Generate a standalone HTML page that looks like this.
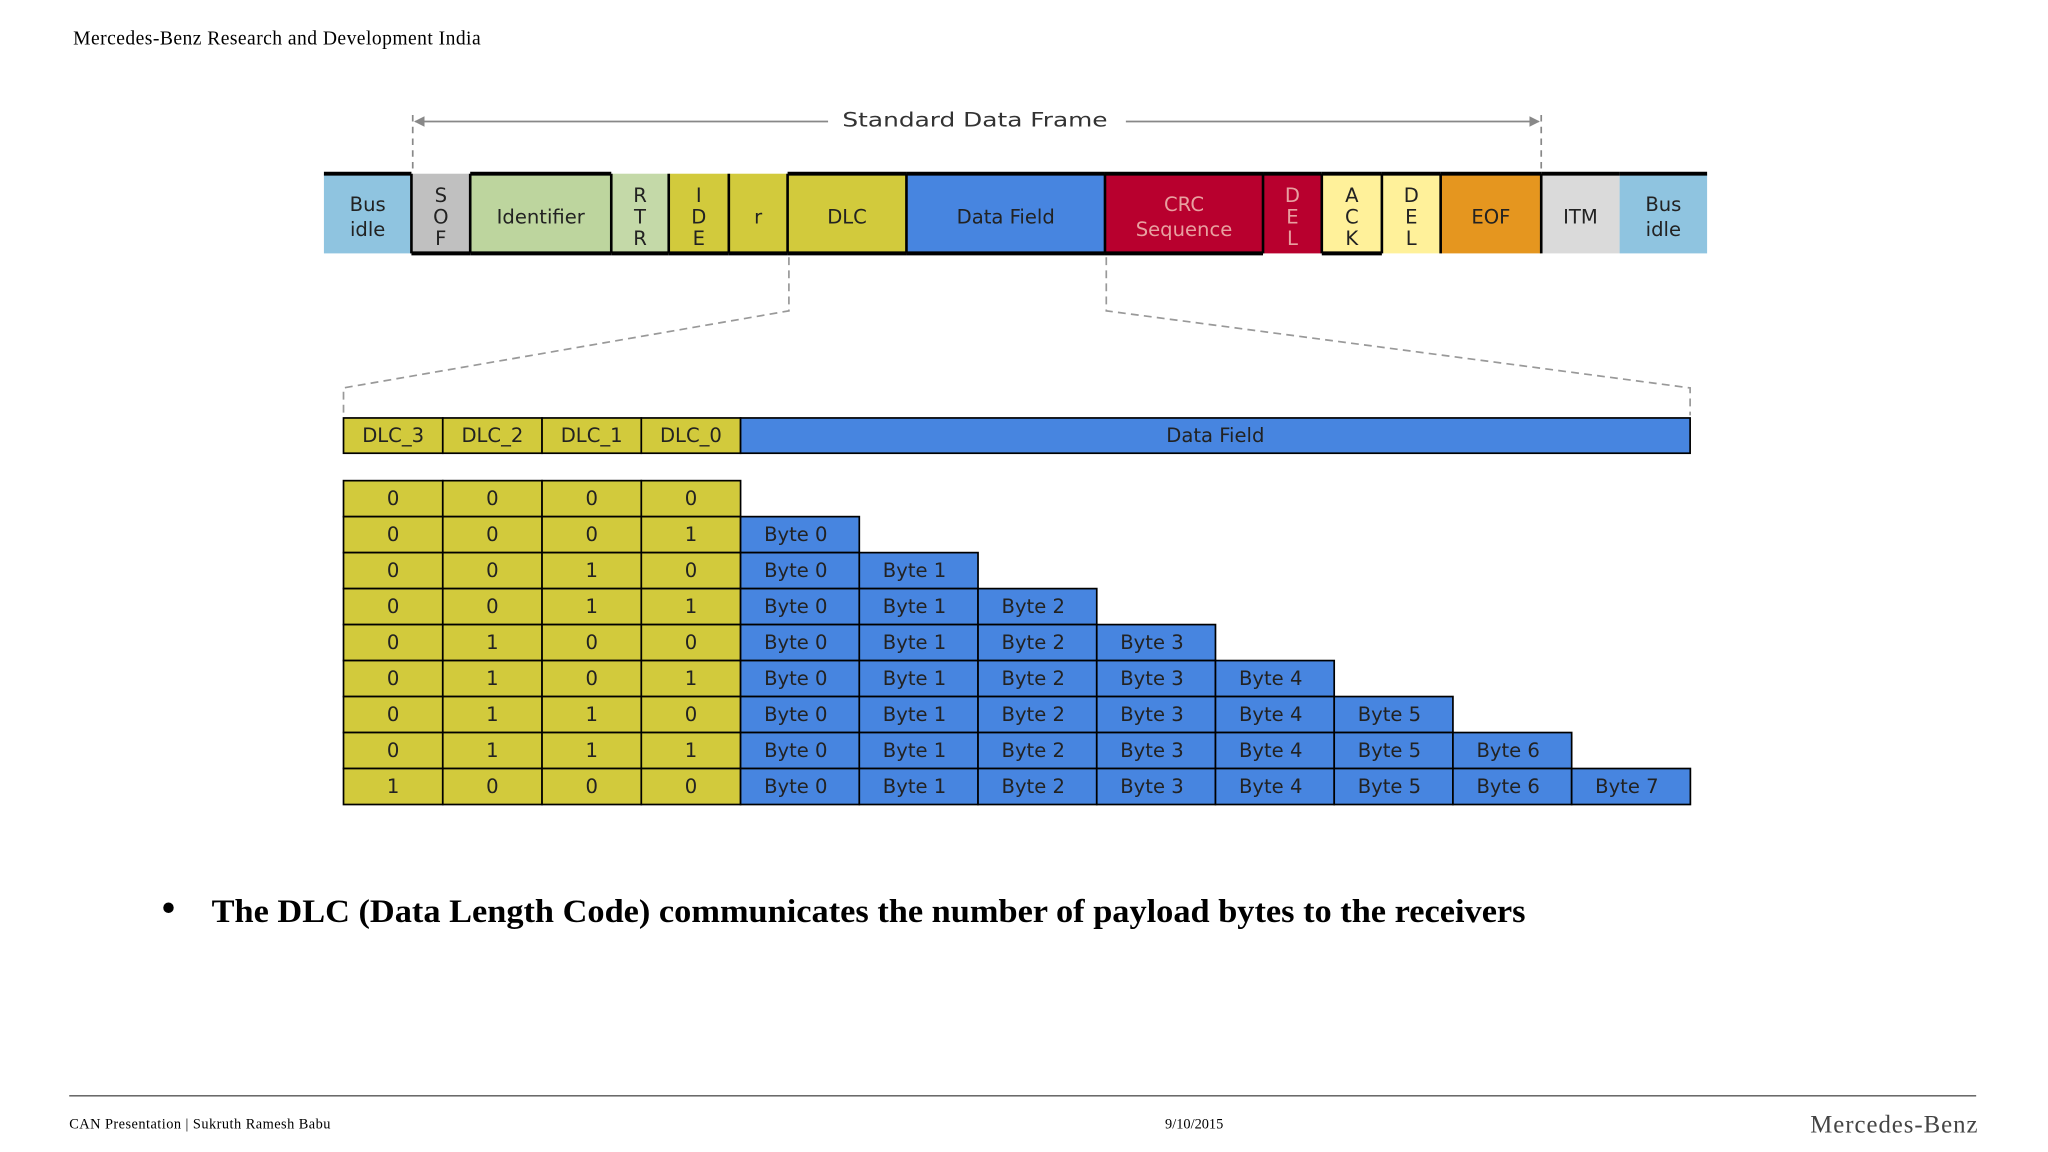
<!DOCTYPE html>
<html><head><meta charset="utf-8"><style>
html,body{margin:0;padding:0;background:#fff;}
svg{display:block;}
.d{font-family:"DejaVu Sans",sans-serif;font-size:15px;}
</style></head><body>
<svg id="s" width="2048" height="1152" viewBox="0 0 1568 882" xmlns="http://www.w3.org/2000/svg">
<text x="56" y="34" font-family="Liberation Serif,serif" font-size="15" textLength="312">Mercedes-Benz Research and Development India</text>
<g stroke="#888" stroke-width="1.3" fill="none">
<line x1="318" y1="93" x2="634" y2="93"/><line x1="862" y1="93" x2="1178" y2="93"/>
<line x1="316" y1="88" x2="316" y2="130" stroke-dasharray="5,4"/><line x1="1180" y1="88" x2="1180" y2="130" stroke-dasharray="5,4"/>
</g>
<polygon points="317,93 325,89 325,97" fill="#888"/><polygon points="1179,93 1171,89 1171,97" fill="#888"/>
<text class="d" x="645" y="97" font-size="18" fill="#333" textLength="203" lengthAdjust="spacingAndGlyphs">Standard Data Frame</text>
<g id="frameTop"></g>
<g stroke="#999" stroke-width="1.3" fill="none" stroke-dasharray="6,4">
<polyline points="604,197 604,238 263,297 263,318"/><polyline points="847,197 847,238 1294,297 1294,318"/>
</g>
<g id="tbl"></g>
<circle cx="129" cy="695" r="4" fill="#000"/>
<text x="162" y="706" font-family="Liberation Serif,serif" font-weight="bold" font-size="25" textLength="1006" lengthAdjust="spacingAndGlyphs">The DLC (Data Length Code) communicates the number of payload bytes to the receivers</text>
<line x1="53" y1="839" x2="1513" y2="839" stroke="#555" stroke-width="1"/>
<text x="53" y="864" font-family="Liberation Serif,serif" font-size="11" textLength="200">CAN Presentation | Sukruth Ramesh Babu</text>
<text x="892" y="864" font-family="Liberation Serif,serif" font-size="11">9/10/2015</text>
<text x="1386" y="867" font-family="Liberation Serif,serif" font-size="19" fill="#444" textLength="128">Mercedes-Benz</text>
</svg>
<script>
const NS="http://www.w3.org/2000/svg";
const fields=[["Bus|idle",248,315,"#8fc4e0","t"],["S|O|F",315,360,"#c0c0c0","b"],["Identifier",360,468,"#bdd59e","tb"],["R|T|R",468,512,"#c4d9a8","b"],["I|D|E",512,558,"#d2ca3c","b"],["r",558,603,"#d2ca3c","b"],["DLC",603,694,"#d2ca3c","tb"],["Data Field",694,846,"#4785e0","tb"],["CRC|Sequence",846,967,"#b8002e","tb"],["D|E|L",967,1012,"#b8002e","t"],["A|C|K",1012,1058,"#fff19a","tb"],["D|E|L",1058,1103,"#fff19a","t"],["EOF",1103,1180,"#e5961f","t"],["ITM",1180,1240,"#dadada","t"],["Bus|idle",1240,1307,"#8fc4e0","t"]];
function el(t,a,p){const e=document.createElementNS(NS,t);for(const k in a)e.setAttribute(k,a[k]);p.appendChild(e);return e;}
const frameTop=document.getElementById("frameTop");
fields.forEach(f=>{
 const g=el("g",{},frameTop);
 
 
 el("rect",{x:f[1],y:133,width:f[2]-f[1],height:61,fill:f[3]},g);
 if(f[4].includes("t"))el("line",{x1:f[1],y1:133,x2:f[2],y2:133,stroke:"#000","stroke-width":3},g);
 if(f[4].includes("b")&&f[0]!=="Bus|idle")el("line",{x1:f[1],y1:194,x2:f[2],y2:194,stroke:"#000","stroke-width":3},g);
 if(f[1]>248&&f[1]<1240)el("line",{x1:f[1],y1:133,x2:f[1],y2:194,stroke:"#000","stroke-width":2},g);
 const parts=f[0].split("|"),cx=(f[1]+f[2])/2,lh=parts.length==3?16.5:19,y0=166-lh*(parts.length-1)/2+5;
 parts.forEach((p,i)=>{const t=el("text",{x:cx,y:y0+i*lh,"text-anchor":"middle",class:"d",fill:f[3]=="#b8002e"?"#e8a0a0":"#222"},g);t.textContent=p;});
});
const dlcBits=[[0,0,0,0],[0,0,0,1],[0,0,1,0],[0,0,1,1],[0,1,0,0],[0,1,0,1],[0,1,1,0],[0,1,1,1],[1,0,0,0]];
const byteCounts=[0,1,2,3,4,5,6,7,8];
const headers=["DLC_3","DLC_2","DLC_1","DLC_0"];
const tbl=document.getElementById("tbl");
const colX=i=>263+i*76, byteX=j=>567+j*90.9, rowY=r=>368+r*27.55;
function cell(x,y,w,h,fill,txt,anchor){
 const g=el("g",{},tbl);
 
 
 el("rect",{x:x,y:y,width:w,height:h,fill:fill,stroke:"#000","stroke-width":1.3},g);
 const t=el("text",{x:anchor=="s"?x+18:x+w/2,y:y+h/2+5,"text-anchor":anchor=="s"?"start":"middle",class:"d",fill:"#222"},g);t.textContent=txt;
}
headers.forEach((h,i)=>cell(colX(i),320,76,27,"#d2ca3c",h));
cell(567,320,727,27,"#4785e0","Data Field");
dlcBits.forEach((bits,r)=>{
 bits.forEach((b,i)=>cell(colX(i),rowY(r),76,27.55,"#d2ca3c",String(b)));
 for(let j=0;j<byteCounts[r];j++)cell(byteX(j),rowY(r),90.9,27.55,"#4785e0","Byte "+j,"s");
});
</script>
</body></html>
